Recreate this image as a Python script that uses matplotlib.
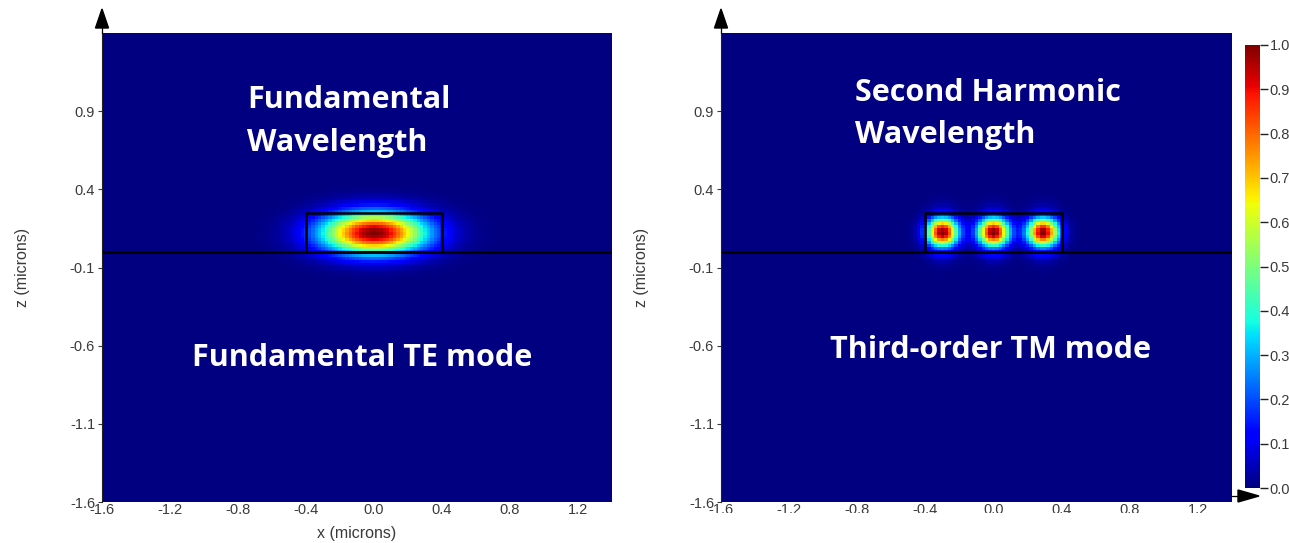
import numpy as np
import matplotlib
matplotlib.use("Agg")
import matplotlib.pyplot as plt
from matplotlib.patches import Rectangle, Polygon

# ---- plot extents (microns) ----
x_range = [-1.6, 1.4]
z_range = [-1.6, 1.4]
x_ticks = [-1.6, -1.2, -0.8, -0.4, 0.0, 0.4, 0.8, 1.2]
z_ticks = [-1.6, -1.1, -0.6, -0.1, 0.4, 0.9]
cbar_ticks = [0.0, 0.1, 0.2, 0.3, 0.4, 0.5, 0.6, 0.7, 0.8, 0.9, 1.0]

# ---- waveguide geometry (microns) ----
core_x = [-0.4, 0.4]
core_z = [0.0, 0.25]
substrate_z = 0.0

# ---- mode parameters ----
te_center = [0.0, 0.12]          # (x, z)
te_width = [0.30, 0.13]          # gaussian widths (x, z)
tm_spot_x = [-0.30, 0.0, 0.29]   # lobe centres of the third-order TM mode
tm_spot_z = 0.125
tm_spot_width = 0.09
tm_jump_below = 1.6              # field jump across the lower interface
tm_jump_above = 1.1              # field jump across the upper interface
tm_decay = 0.035

panel_titles = ["Fundamental\nWavelength", "Second Harmonic\nWavelength"]
panel_modes = ["Fundamental TE mode", "Third-order TM mode"]

step = 0.02
xs = np.arange(x_range[0], x_range[1] + 1e-9, step)
zs = np.arange(z_range[0], z_range[1] + 1e-9, step)
X, Z = np.meshgrid(xs, zs)

# fundamental TE intensity
te = np.exp(-((X - te_center[0]) / te_width[0]) ** 2
            - ((Z - te_center[1]) / te_width[1]) ** 2)
te /= te.max()

# third-order TM intensity: three lobes inside the core, with the
# normal-field jump and evanescent tails outside the core in z
lobes_x = sum(np.exp(-((X - c) / tm_spot_width) ** 2) for c in tm_spot_x)
in_core = (Z >= core_z[0]) & (Z <= core_z[1])
tm_in = lobes_x * np.exp(-((Z - tm_spot_z) / tm_spot_width) ** 2)
edge_lo = np.exp(-((core_z[0] - tm_spot_z) / tm_spot_width) ** 2)
edge_hi = np.exp(-((core_z[1] - tm_spot_z) / tm_spot_width) ** 2)
tm_below = lobes_x * edge_lo * tm_jump_below * np.exp(-(core_z[0] - Z) / tm_decay)
tm_above = lobes_x * edge_hi * tm_jump_above * np.exp(-(Z - core_z[1]) / tm_decay)
tm = np.where(in_core, tm_in, np.where(Z < core_z[0], tm_below, tm_above))
tm /= tm.max()

W, H = 1289, 543
fig = plt.figure(figsize=(W / 100, H / 100), dpi=100)

def frac(left, top, right, bottom):
    return [left / W, 1 - bottom / H, (right - left) / W, (bottom - top) / H]

tick_font = dict(family=["Liberation Sans Narrow", "Liberation Sans", "DejaVu Sans"], size=10.5)
label_font = dict(family=["Liberation Sans", "DejaVu Sans"], size=11.5)
gray = "#3a3a3a"
title_font = dict(family=["Open Sans", "Lato", "DejaVu Sans"], weight="bold", size=22, color="white")

axes_boxes = [frac(102, 33, 612, 502), frac(721, 33, 1232, 502)]
fields = [te, tm]
title_pos = [(0.284, 0.811), (0.262, 0.827)]
title_spacing = [1.57, 1.5]
mode_pos = [(0.51, 0.307), (0.528, 0.324)]
mesh = None
for i, (box, field) in enumerate(zip(axes_boxes, fields)):
    ax = fig.add_axes(box)
    mesh = ax.pcolormesh(xs, zs, field, cmap="jet", vmin=0, vmax=1, shading="nearest")
    ax.set_xlim(x_range)
    ax.set_ylim(z_range)
    ax.axhline(substrate_z, color="black", lw=2)
    ax.add_patch(Rectangle((core_x[0], core_z[0]), core_x[1] - core_x[0],
                           core_z[1] - core_z[0], fill=False, ec="black", lw=1.8))
    ax.set_xticks(x_ticks)
    ax.set_yticks(z_ticks)
    ax.set_xticklabels([f"{t:.1f}" for t in x_ticks], **tick_font, color=gray)
    ax.set_yticklabels([f"{t:.1f}" for t in z_ticks], **tick_font, color=gray)
    ax.tick_params(axis="x", length=0, pad=1)
    ax.tick_params(axis="y", length=3, width=0.8, color=gray, pad=2)
    for side in ["top", "right", "bottom"]:
        ax.spines[side].set_visible(False)
    ax.spines["left"].set_color("#222222")
    ax.spines["left"].set_linewidth(0.8)
    ax.set_ylabel("z (microns)", **label_font, color=gray, labelpad=29)
    if i == 0:
        ax.set_xlabel("x (microns)", **label_font, color=gray, labelpad=6)
    ax.text(*title_pos[i], panel_titles[i], transform=ax.transAxes,
            ha="left", va="center", linespacing=title_spacing[i], **title_font)
    ax.text(*mode_pos[i], panel_modes[i],
            transform=ax.transAxes, ha="center", va="center", **title_font)

# white band hiding the lower edge of the right panel's tick labels
fig.patches.append(Rectangle((650 / W, 0), 1 - 650 / W, (H - 513) / H,
                             transform=fig.transFigure, fc="white", ec="none", zorder=10))

# axis arrows
def arrow_up(xp, base, tip):
    fig.add_artist(plt.Line2D([xp / W, xp / W], [1 - 33 / H, 1 - base / H],
                              transform=fig.transFigure, color="black", lw=0.9))
    fig.patches.append(Polygon([[(xp - 6.5) / W, 1 - base / H], [(xp + 6.5) / W, 1 - base / H],
                                [xp / W, 1 - tip / H]], closed=True,
                               transform=fig.transFigure, fc="black", ec="black"))

arrow_up(102, 28, 9)
arrow_up(721, 28, 9)
yb = 496
fig.add_artist(plt.Line2D([1232 / W, 1240 / W], [1 - yb / H, 1 - yb / H],
                          transform=fig.transFigure, color="black", lw=0.9))
fig.patches.append(Polygon([[1238 / W, 1 - (yb - 6) / H], [1238 / W, 1 - (yb + 6) / H],
                            [1259 / W, 1 - yb / H]], closed=True,
                           transform=fig.transFigure, fc="black", ec="black"))

# colorbar
cax = fig.add_axes(frac(1245, 45, 1260, 488))
cb = fig.colorbar(mesh, cax=cax, ticks=cbar_ticks)
cb.outline.set_visible(False)
cax.set_yticklabels([f"{t:.1f}" for t in cbar_ticks], **tick_font, color=gray)
cax.tick_params(length=6, width=1, color="#222222", pad=1)

fig.savefig("out.png", dpi=100)
